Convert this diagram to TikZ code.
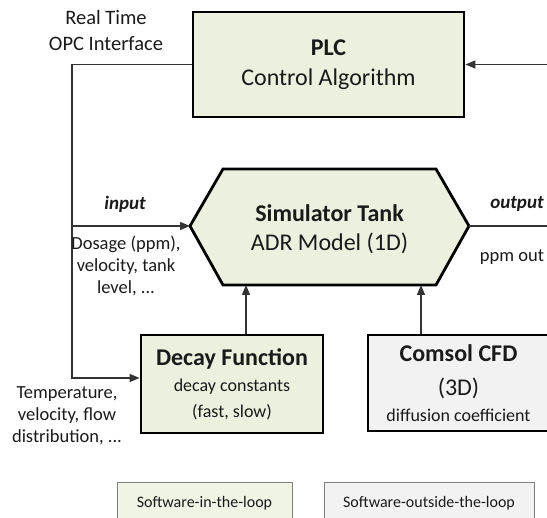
\documentclass[tikz,border=0pt]{standalone}
\usepackage{fontspec}
\setmainfont{Carlito}
\usetikzlibrary{arrows.meta,calc}
\definecolor{boxgreen}{HTML}{EBF1DE}
\definecolor{boxgray}{HTML}{F2F2F2}
\definecolor{wire}{HTML}{333333}
\definecolor{txt}{HTML}{1A1A1A}
\definecolor{legendline}{HTML}{7F7F7F}
\begin{document}
\begin{tikzpicture}[x=1pt,y=-1pt,
  blockbox/.style={draw=black, line width=2.8pt, inner sep=0pt, align=center, text=txt},
  wireline/.style={draw=wire, line width=1.4pt},
  arr/.style={wireline, -{Triangle[length=10pt,width=8pt]}},
  lbl/.style={font=\fontsize{18.5}{22}\selectfont, align=center, text=txt, inner sep=0pt},
  tag/.style={font=\fontsize{19}{22}\selectfont\bfseries\itshape, text=txt, inner sep=0pt},
  legendbox/.style={draw=legendline, line width=1pt, inner sep=0pt, minimum height=40pt,
    font=\fontsize{16}{20}\selectfont, text=txt}
]
\useasboundingbox (0,0) rectangle (547,518);

% PLC block
\node[blockbox, fill=boxgreen, minimum width=271pt, minimum height=105pt,
  font=\fontsize{24}{30}\selectfont] (plc) at (328.5,64.5)
  {\textbf{PLC}\\Control Algorithm};

% simulator tank (hexagon)
\coordinate (hexW) at (190,226);
\coordinate (hexE) at (469,226);
\coordinate (hexS) at (329.5,285);
\draw[line width=2.8pt, fill=boxgreen, line join=miter]
  (hexW) -- (223,169) -- (436,169) -- (hexE) -- (436,285) -- (223,285) -- cycle;
\node[font=\fontsize{24}{29}\selectfont, align=center, text=txt, inner sep=0pt] (tank) at (329.5,229)
  {\textbf{Simulator Tank}\\ADR Model (1D)};

% decay function block
\node[blockbox, fill=boxgreen, minimum width=182pt, minimum height=98pt,
  font=\fontsize{18}{26}\selectfont] (decay) at (232,384)
  {{\fontsize{24}{26}\selectfont\bfseries Decay Function}\\decay constants\\(fast, slow)};

% CFD block
\node[blockbox, fill=boxgray, minimum width=181pt, minimum height=96pt,
  font=\fontsize{18}{26}\selectfont] (cfd) at (458.5,383)
  {{\fontsize{24}{26}\selectfont\bfseries Comsol CFD}\\[8pt]{\fontsize{24}{26}\selectfont (3D)}\\diffusion coefficient};

% signal bus on the left
\coordinate (busIn) at (72,226);
\coordinate (busLow) at (72,378);
\coordinate (outEnd) at (550,226);
\coordinate (fbEnd) at (550,64.5);

\draw[arr] (plc.west) -| (busLow) -- (busLow -| decay.west);
\draw[arr] (busIn) -- (hexW);
\draw[wireline] (hexE) -- (outEnd);
\draw[arr] (fbEnd) -- (plc.east);
\draw[arr] ([xshift=14pt]decay.north) -- ([xshift=14pt]decay.north |- hexS);
\draw[arr] ([xshift=-37.5pt]cfd.north) -- ([xshift=-37.5pt]cfd.north |- hexS);

% labels
\node[lbl, font=\fontsize{20.5}{26}\selectfont] (opc) at (106,30) {Real Time\\OPC Interface};
\node[tag] (inlbl) at (125,204) {input};
\node[lbl] (dosage) at (126,266) {Dosage (ppm),\\velocity, tank\\level, ...};
\node[lbl] (temp) at (67,416) {Temperature,\\velocity, flow\\distribution, ...};
\node[tag] (outlbl) at (517,204) {output};
\node[lbl] (ppm) at (512,257) {ppm out};

% legend
\node[legendbox, fill=boxgreen!80!white, minimum width=175pt] (sil) at (204.5,503) {Software-in-the-loop};
\node[legendbox, fill=boxgray, minimum width=210pt] (sol) at (429,503) {Software-outside-the-loop};
\end{tikzpicture}
\end{document}
